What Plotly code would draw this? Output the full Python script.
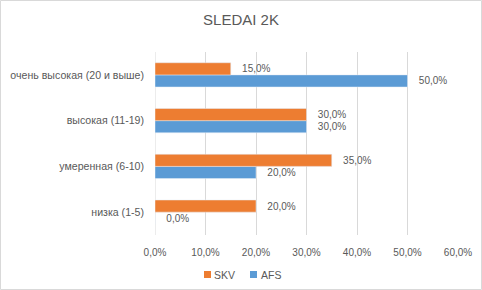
import plotly.graph_objects as go

categories = ["низка (1-5)", "умеренная (6-10)", "высокая (11-19)", "очень высокая (20 и выше)"]
skv = [0.20, 0.35, 0.30, 0.15]
afs = [0.00, 0.20, 0.30, 0.50]
tick_vals = [0, 0.1, 0.2, 0.3, 0.4, 0.5, 0.6]
series_names = ["SKV", "AFS"]
series_colors = ["#ED7D31", "#5B9BD5"]

W, H = 482, 290
ml, mr, mt, mb = 155, 24, 52, 55
pw, ph = W - ml - mr, H - mt - mb


def px(x):
    return (x - ml) / pw


def py(y):
    return 1 - (y - mt) / ph


grey = "#595959"
pad = "\u00a0\u00a0\u00a0"
fig = go.Figure()
fig.add_trace(go.Bar(y=categories, x=afs, name=series_names[1], orientation="h",
                     marker_color=series_colors[1], texttemplate=pad + "%{x:.1%}",
                     textposition="outside", cliponaxis=False,
                     textfont=dict(color=grey, size=10), showlegend=False))
fig.add_trace(go.Bar(y=categories, x=skv, name=series_names[0], orientation="h",
                     marker_color=series_colors[0], texttemplate=pad + "%{x:.1%}",
                     textposition="outside", cliponaxis=False,
                     textfont=dict(color=grey, size=10), showlegend=False))

fig.update_layout(
    width=W, height=H,
    margin=dict(l=ml, r=mr, t=mt, b=mb, autoexpand=False),
    paper_bgcolor="white", plot_bgcolor="white",
    separators=", ",
    font=dict(family="Liberation Sans, Arial, sans-serif", size=10, color=grey),
    title=dict(text="SLEDAI 2K", x=0.5, xref="container", xanchor="center",
               y=(H - 19.5) / H, yref="container", yanchor="middle",
               font=dict(size=15, color=grey)),
    barmode="group", bargap=0.47, bargroupgap=0,
    showlegend=False,
    xaxis=dict(range=[0, 0.6], tickvals=tick_vals, tickformat=".1%",
               showgrid=True, gridcolor="#D9D9D9", gridwidth=1,
               zeroline=False, showline=False, ticks="",
               ticklabelstandoff=10,
               tickfont=dict(size=10, color=grey)),
    yaxis=dict(showgrid=False, zeroline=False, showline=False, ticks="",
               ticklabelstandoff=10,
               tickfont=dict(size=10.6, color=grey)),
)

fig.add_shape(type="line", xref="x", yref="paper", x0=0, x1=0, y0=0, y1=1,
              line=dict(color="#D9D9D9", width=1), layer="below")
fig.add_shape(type="rect", xref="paper", yref="paper",
              x0=px(0.5), x1=px(W - 0.5), y0=py(H - 0.5), y1=py(0.5),
              line=dict(color="#D9D9D9", width=1))

# legend (SKV first, then AFS)
legend_sq = [204, 250]
legend_tx = [212, 259]
for name, col, sx, tx in zip(series_names, series_colors, legend_sq, legend_tx):
    fig.add_shape(type="rect", xref="paper", yref="paper",
                  x0=px(sx), x1=px(sx + 7), y0=py(278), y1=py(271),
                  fillcolor=col, line=dict(width=0))
    fig.add_annotation(text=name, xref="paper", yref="paper", x=px(tx), y=py(274.5),
                       xanchor="left", yanchor="middle", showarrow=False,
                       font=dict(size=10.5, color=grey))

fig.write_html("out.html", config={"displayModeBar": False},
               post_script="document.body.style.margin='0';")
